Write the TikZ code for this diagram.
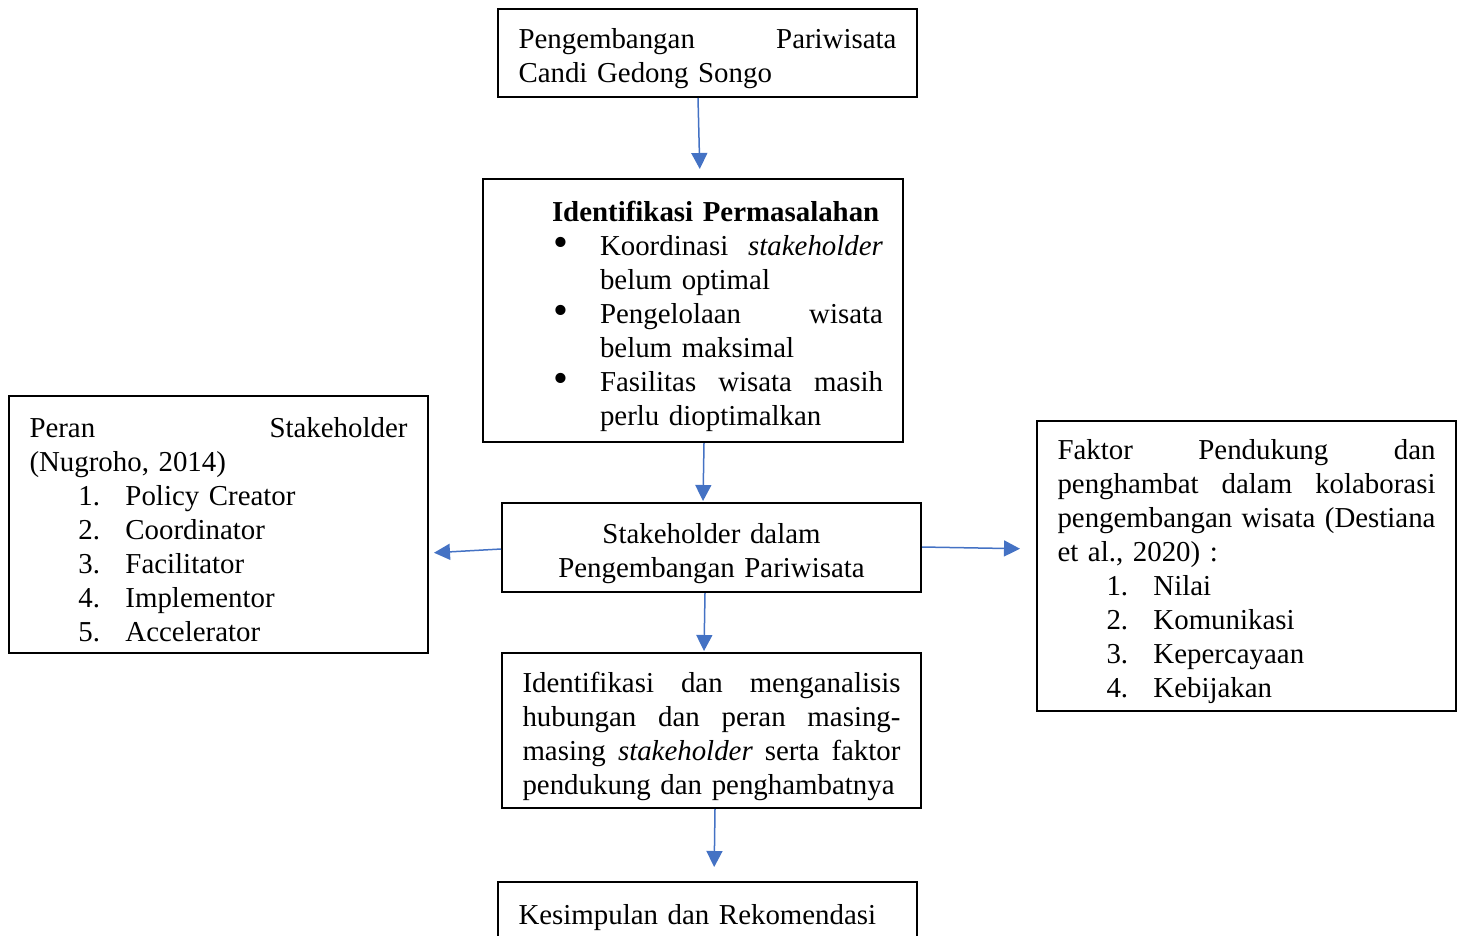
\documentclass[tikz,border=0pt]{standalone}
\usepackage{fontspec}
\setmainfont{Liberation Serif}
\usetikzlibrary{arrows.meta}
\newlength\px
\setlength\px{0.4pt}
\newcommand{\jl}[2][378\px]{\makebox[#1][s]{\spaceskip=0pt\xspaceskip=0pt #2}}
\newcommand{\bigdot}{\raisebox{-0.6pt}{\fontsize{17pt}{13.6pt}\selectfont\textbullet}}
\definecolor{wordblue}{HTML}{4472C4}
\tikzset{
  block/.style={draw, line width=0.8pt, inner xsep=20\px, inner ysep=0pt,
    text width=378\px, minimum width=419\px, align=left,
    font=\fontsize{11.55pt}{13.6pt}\selectfont,
    execute at begin node=\rule{0pt}{12.5pt}},
  link/.style={wordblue, line width=0.6pt, -{Triangle[length=6.4pt,width=6.4pt]}}
}
\begin{document}
\begin{tikzpicture}[x=\px, y=-\px]
		\useasboundingbox (0,0) rectangle (1459,935);
		% main column
		\node[block, minimum height=88\px] (dev) at (707.5,53)
		  {\jl{Pengembangan Pariwisata}\\Candi Gedong Songo};
		\node[block, minimum width=420\px, minimum height=263\px] (issue) at (693,310.5)
		  {\hspace*{48\px}\mbox{\textbf{Identifikasi Permasalahan}}\\
		   \hspace*{49\px}\makebox[47\px][l]{\bigdot}\jl[283\px]{Koordinasi \textit{stakeholder}}\\
		   \hspace*{96\px}belum optimal\\
		   \hspace*{49\px}\makebox[47\px][l]{\bigdot}\jl[283\px]{Pengelolaan wisata}\\
		   \hspace*{96\px}belum maksimal\\
		   \hspace*{49\px}\makebox[47\px][l]{\bigdot}\jl[283\px]{Fasilitas wisata masih}\\
		   \hspace*{96\px}perlu dioptimalkan};
		\node[block, align=center, minimum height=89\px] (actor) at (711.5,547.5)
		  {Stakeholder dalam\\Pengembangan Pariwisata};
		\node[block, minimum height=155\px] (anal) at (711.5,730.5)
		  {\jl{Identifikasi dan menganalisis}\\
		   \jl{hubungan dan peran masing-}\\
		   \jl{masing \textit{stakeholder} serta faktor}\\
		   pendukung dan penghambatnya};
		\node[block, minimum height=88\px] (concl) at (707.5,926)
		  {Kesimpulan dan Rekomendasi\\\mbox{}};
		% side boxes
		\node[block, minimum height=257\px] (role) at (218.5,524.5)
		  {\jl{Peran Stakeholder}\\
		   (Nugroho, 2014)\\
		   \hspace*{49\px}\makebox[47\px][l]{1.}Policy Creator\\
		   \hspace*{49\px}\makebox[47\px][l]{2.}Coordinator\\
		   \hspace*{49\px}\makebox[47\px][l]{3.}Facilitator\\
		   \hspace*{49\px}\makebox[47\px][l]{4.}Implementor\\
		   \hspace*{49\px}\makebox[47\px][l]{5.}Accelerator};
		\node[block, minimum height=290\px] (factor) at (1246.5,566)
		  {\jl{Faktor Pendukung dan}\\
		   \jl{penghambat dalam kolaborasi}\\
		   \jl{pengembangan wisata (Destiana}\\
		   et al., 2020) :\\
		   \hspace*{49\px}\makebox[47\px][l]{1.}Nilai\\
		   \hspace*{49\px}\makebox[47\px][l]{2.}Komunikasi\\
		   \hspace*{49\px}\makebox[47\px][l]{3.}Kepercayaan\\
		   \hspace*{49\px}\makebox[47\px][l]{4.}Kebijakan};
		% arrows
		\draw[link, shorten >=9\px] ([xshift=-9.5\px]dev.south) -- ([xshift=7\px]issue.north);
		\draw[link, shorten >=1\px] ([xshift=11\px]issue.south) -- ([xshift=-8.5\px]actor.north);
		\draw[link, shorten >=5\px] ([yshift=-1.5\px]actor.west) -- ([yshift=-28.5\px]role.east);
		\draw[link, shorten >=16\px] ([yshift=0.5\px]actor.east) -- ([yshift=17\px]factor.west);
		\draw[link, shorten >=1\px] ([xshift=-6.5\px]actor.south) -- ([xshift=-7.5\px]anal.north);
		\draw[link, shorten >=14\px] ([xshift=3.5\px]anal.south) -- ([xshift=6.5\px]concl.north);
\end{tikzpicture}
\end{document}
